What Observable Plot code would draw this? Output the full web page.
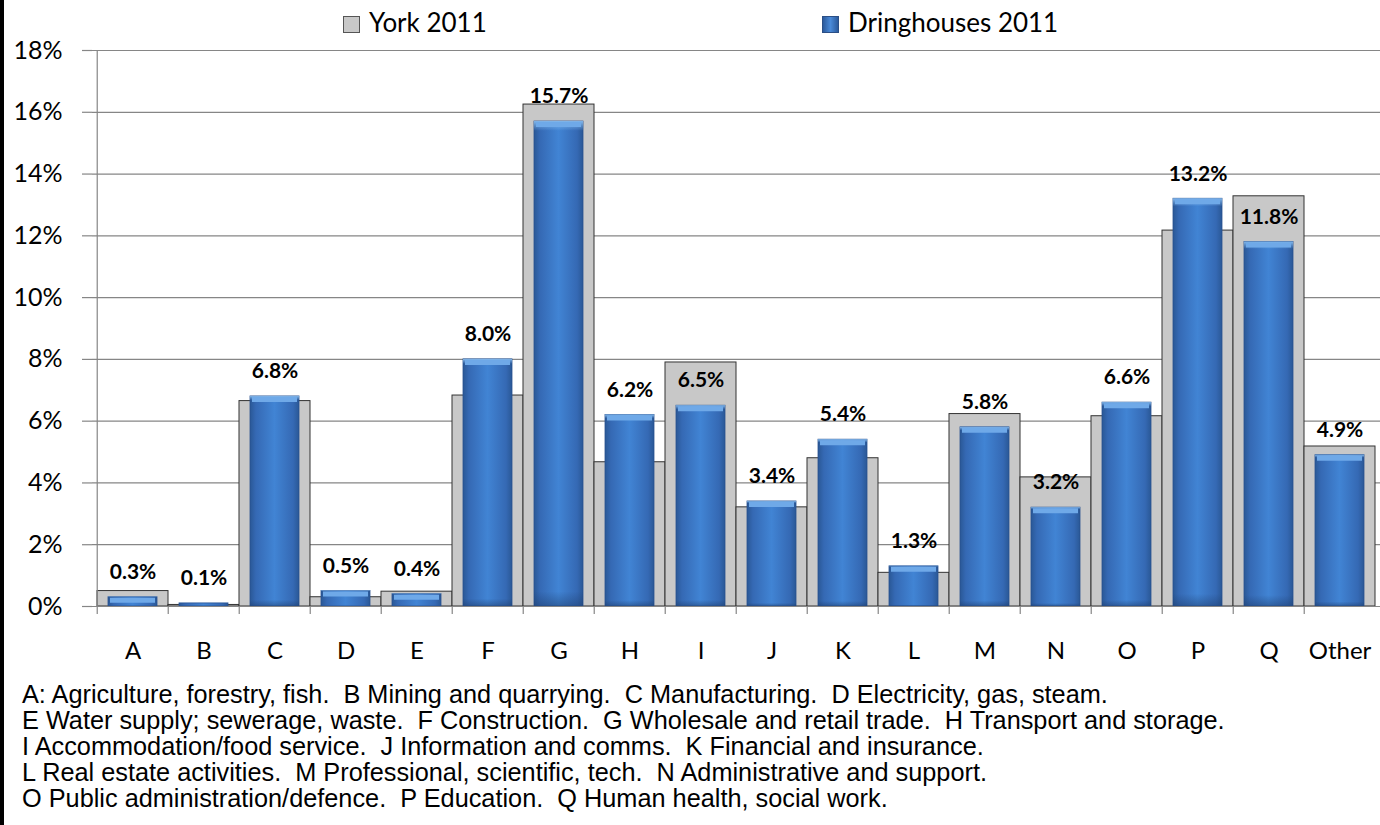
<!DOCTYPE html>
<html>
<head>
<meta charset="utf-8">
<script src="https://cdn.jsdelivr.net/npm/d3@7"></script>
<script src="https://cdn.jsdelivr.net/npm/@observablehq/plot@0.6"></script>
<style>
  html, body { margin: 0; padding: 0; background: #fff; }
  body { width: 1380px; height: 825px; position: relative; overflow: hidden; }
  #strip { position: absolute; left: 0; top: 0; width: 4px; height: 825px; background: #000; z-index: 5; }
  #chart { position: absolute; left: 0; top: 0; }
  .legend { position: absolute; top: 7px; font-family: Lato, "Open Sans", sans-serif; font-size: 26px; line-height: 31px; color: #000; display: flex; align-items: center; }
  .sw { width: 15px; height: 15px; margin-right: 9px; margin-top: 4px; border: 1px solid #555; }
  #notes { position: absolute; left: 22px; top: 681px; font-family: "Liberation Sans", Arial, sans-serif; font-size: 25.3px; line-height: 26px; color: #000; white-space: pre; }
</style>
</head>
<body>
<div id="strip"></div>
<div id="chart"></div>
<div class="legend" style="left:343px"><div class="sw" style="background:#c8c8c8"></div>York 2011</div>
<div class="legend" style="left:822px"><div class="sw" style="background:linear-gradient(90deg,#2b5a9c,#4a8ad8 50%,#2b5a9c);border-color:#2b4f86"></div>Dringhouses 2011</div>
<div id="notes"></div>
<script>
const categories = ["A","B","C","D","E","F","G","H","I","J","K","L","M","N","O","P","Q","Other"];
const york2011 = [0.5, 0.05, 6.65, 0.3, 0.48, 6.83, 16.25, 4.67, 7.9, 3.21, 4.8, 1.09, 6.23, 4.18, 6.16, 12.17, 13.28, 5.18];
const dringhouses2011 = [0.3, 0.1, 6.8, 0.5, 0.4, 8.0, 15.7, 6.2, 6.5, 3.4, 5.4, 1.3, 5.8, 3.2, 6.6, 13.2, 11.8, 4.9];
const yTicks = [0, 2, 4, 6, 8, 10, 12, 14, 16, 18];
const notes = [
  "A: Agriculture, forestry, fish.  B Mining and quarrying.  C Manufacturing.  D Electricity, gas, steam.",
  "E Water supply; sewerage, waste.  F Construction.  G Wholesale and retail trade.  H Transport and storage.",
  "I Accommodation/food service.  J Information and comms.  K Financial and insurance.",
  "L Real estate activities.  M Professional, scientific, tech.  N Administrative and support.",
  "O Public administration/defence.  P Education.  Q Human health, social work."
];

const data = categories.map((c, i) => ({cat: c, york: york2011[i], dring: dringhouses2011[i]}));

const W = 1380, ML = 92, MR = 0;
const halfBand = (W - ML - MR) / categories.length / 2;
const font = "Lato, 'Open Sans', sans-serif";

const svg = Plot.plot({
  width: W,
  height: 666,
  marginLeft: ML,
  marginRight: MR,
  marginTop: 50,
  marginBottom: 60,
  style: {fontFamily: font, color: "#000", background: "transparent", overflow: "visible"},
  x: {domain: categories, padding: 0, label: null},
  y: {domain: [0, 18], label: null},
  marks: [
    Plot.gridY(yTicks, {stroke: "#868686", strokeOpacity: 1, strokeWidth: 1.2}),
    Plot.axisY(yTicks, {tickSize: 10, tickPadding: 20, stroke: "#868686", strokeWidth: 1.2, fontSize: 25, tickFormat: d => d + "%", label: null}),
    Plot.barY(data, {x: "cat", y: "york", fill: "#c8c8c8", stroke: "#333", strokeWidth: 1}),
    Plot.barY(data, {x: "cat", y: "dring", fill: "url(#blueGrad)", stroke: "#2a5290", strokeWidth: 0.8, insetLeft: 11, insetRight: 11, style: "filter: drop-shadow(2px 2px 2px rgba(0,0,0,0.35))"}),
    Plot.barY(data, {x: "cat", y: "dring", fill: "url(#topGrad)", insetLeft: 11, insetRight: 11}),
    Plot.tickY(data.filter(d => d.dring >= 0.3), {x: "cat", y: "dring", dy: 3, stroke: "#6fa9e8", strokeWidth: 5, insetLeft: 13, insetRight: 13}),
    Plot.text(data, {x: "cat", y: "dring", text: d => d.dring.toFixed(1) + "%", dy: -25, fontSize: 21, fontWeight: "bold", fill: "#000"}),
    Plot.ruleY([0], {stroke: "#868686", strokeWidth: 1.2}),
    Plot.ruleX([categories[0]], {dx: -halfBand, stroke: "#868686", strokeWidth: 1.2}),
    Plot.axisX({tickSize: 8, dx: -halfBand, stroke: "#868686", strokeWidth: 1.2, tickFormat: () => "", label: null}),
    Plot.axisX({tickSize: 0, tickPadding: 35, fontSize: 24, label: null})
  ]
});

svg.insertAdjacentHTML("afterbegin", `<defs>
  <linearGradient id="blueGrad" x1="0" y1="0" x2="1" y2="0">
    <stop offset="0" stop-color="#2a5896"/>
    <stop offset="0.12" stop-color="#3569b4"/>
    <stop offset="0.5" stop-color="#4184d4"/>
    <stop offset="0.88" stop-color="#3569b4"/>
    <stop offset="1" stop-color="#2a5896"/>
  </linearGradient>
  <linearGradient id="topGrad" x1="0" y1="0" x2="0" y2="1" gradientUnits="objectBoundingBox">
    <stop offset="0" stop-color="#8cc2f4" stop-opacity="0.9"/>
    <stop offset="0.02" stop-color="#8cc2f4" stop-opacity="0.0"/>
    <stop offset="0.97" stop-color="#1e3f70" stop-opacity="0"/>
    <stop offset="1" stop-color="#1e3f70" stop-opacity="0.5"/>
  </linearGradient>
</defs>`);

document.getElementById("chart").appendChild(svg);
document.getElementById("notes").textContent = notes.join("\n");
</script>
</body>
</html>
